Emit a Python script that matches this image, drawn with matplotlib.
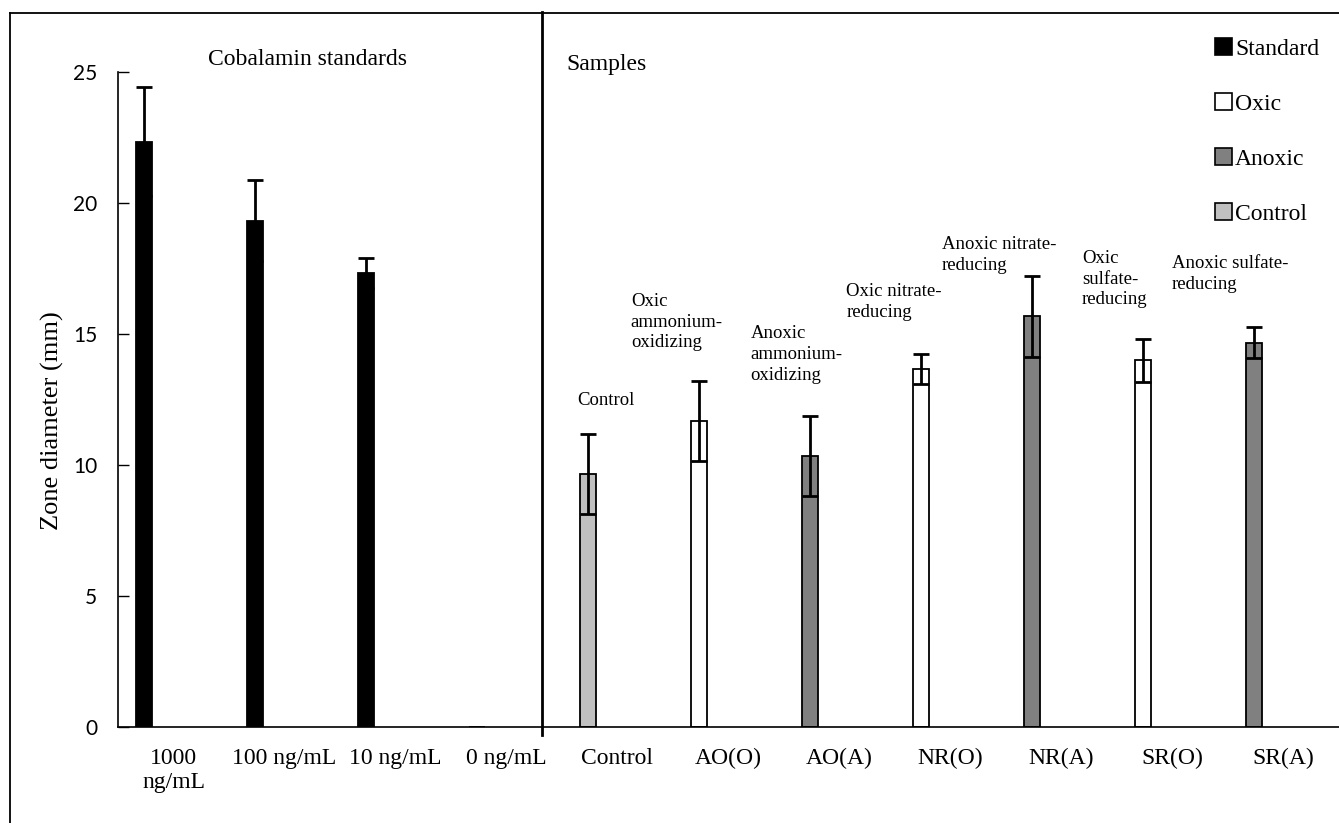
import numpy as np
import matplotlib.pyplot as plt
from matplotlib.patches import Patch
from matplotlib.lines import Line2D

# data
categories = ["1000\nng/mL", "100 ng/mL", "10 ng/mL", "0 ng/mL", "Control",
              "AO(O)", "AO(A)", "NR(O)", "NR(A)", "SR(O)", "SR(A)"]
means = [22.33, 19.33, 17.33, 0.0, 9.67, 11.67, 10.33, 13.67, 15.67, 14.0, 14.67]
errors = [2.08, 1.53, 0.58, 0.0, 1.53, 1.53, 1.53, 0.58, 1.53, 0.82, 0.58]
groups = ["Standard", "Standard", "Standard", "Standard", "Control",
          "Oxic", "Anoxic", "Oxic", "Anoxic", "Oxic", "Anoxic"]
bar_notes = ["", "", "", "", "Control", "Oxic\nammonium-\noxidizing",
             "Anoxic\nammonium-\noxidizing", "Oxic nitrate-\nreducing",
             "Anoxic nitrate-\nreducing", "Oxic\nsulfate-\nreducing",
             "Anoxic sulfate-\nreducing"]
group_colors = {"Standard": "#000000", "Oxic": "#ffffff",
                "Anoxic": "#808080", "Control": "#c0c0c0"}

# note positions (left, top) in data coords
note_pos = [None, None, None, None, (3.635, 12.78), (4.12, 16.58), (5.20, 15.33),
            (6.06, 16.95), (6.92, 18.75), (8.185, 18.22), (8.995, 18.0)]

serif = "Liberation Serif"

fig = plt.figure(figsize=(13.39, 8.23), dpi=100)
ax = fig.add_axes([118 / 1339, 96 / 823, 1221 / 1339, 655 / 823])

x = np.arange(len(categories))
bx = x - 0.265
cols = [group_colors[g] for g in groups]
ax.bar(bx, means, width=0.145, color=cols, edgecolor="black", linewidth=1.3, zorder=2)
mask = np.array(errors) > 0
ax.errorbar(bx[mask], np.array(means)[mask], yerr=np.array(errors)[mask], fmt="none",
            ecolor="black", elinewidth=2, capsize=5.5, capthick=2, zorder=3)

for i, note in enumerate(bar_notes):
    if note:
        ax.text(note_pos[i][0], note_pos[i][1], note, family=serif, fontsize=13.5,
                ha="left", va="top", linespacing=1.3)

ax.set_xlim(-0.5, len(categories) - 0.5)
ax.set_ylim(0, 25)
ax.set_yticks(np.arange(0, 26, 5))
ax.set_xticks(x)
ax.set_xticklabels(categories, family=serif, fontsize=17, linespacing=1.2)
ax.tick_params(axis="x", length=0, pad=15)
ax.tick_params(axis="y", direction="in", length=8, width=1, pad=15, labelsize=15)
for lab in ax.get_yticklabels():
    lab.set_family("Lato")

for s in ["top", "right"]:
    ax.spines[s].set_visible(False)
for s in ["left", "bottom"]:
    ax.spines[s].set_linewidth(1.2)

ax.set_ylabel("Zone diameter (mm)", family=serif, fontsize=19)
ax.yaxis.set_label_coords(-0.044, 0.467)

# section divider and headers
ax.add_line(Line2D([3.32, 3.32], [-0.3, 27.3], color="black", lw=2, clip_on=False))
ax.text(0.31, 25.48, "Cobalamin standards", family=serif, fontsize=17, va="center", ha="left")
ax.text(3.536, 25.27, "Samples", family=serif, fontsize=17, va="center", ha="left")

# outer frame
fig.add_artist(Line2D([10 / 1339, 10 / 1339], [0, 1 - 13 / 823], color="black", lw=1.3,
                      transform=fig.transFigure))
fig.add_artist(Line2D([10 / 1339, 1], [1 - 13 / 823, 1 - 13 / 823], color="black", lw=1.3,
                      transform=fig.transFigure))

handles = [Patch(facecolor=group_colors[g], edgecolor="black", linewidth=1.2)
           for g in ["Standard", "Oxic", "Anoxic", "Control"]]
fig.legend(handles, ["Standard", "Oxic", "Anoxic", "Control"], loc="upper left",
           bbox_to_anchor=(1215 / 1339, 1 - 38 / 823), frameon=False,
           prop={"family": serif, "size": 17}, handlelength=0.7, handleheight=0.7,
           handletextpad=0.15, labelspacing=1.42, borderpad=0, borderaxespad=0)

fig.savefig("out.png", dpi=100)
